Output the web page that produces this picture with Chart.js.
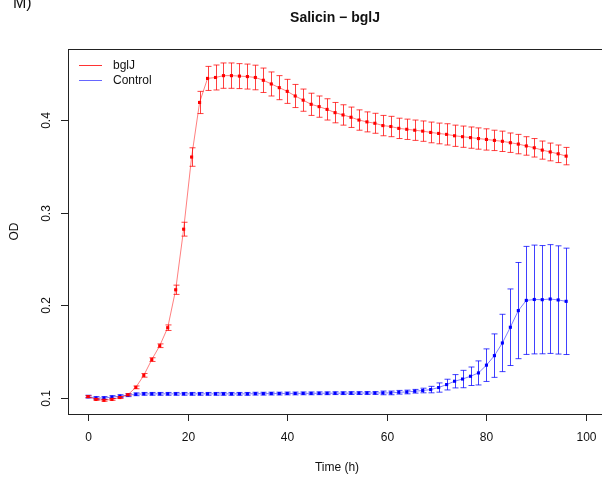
<!DOCTYPE html>
<html>
<head>
<meta charset="utf-8">
<title>Salicin - bglJ</title>
<script src="https://cdn.jsdelivr.net/npm/chart.js@4.4.0/dist/chart.umd.min.js"></script>
<style>
  html, body { margin: 0; padding: 0; background: #fff; }
  canvas { display: block; }
</style>
</head>
<body>
<canvas id="growth" width="602" height="482"></canvas>
<script>
// sampling times (h)
const timeHours = [
  0, 1.6, 3.2, 4.8, 6.4, 8, 9.6, 11.2, 12.8, 14.4,
  16, 17.6, 19.2, 20.8, 22.4, 24, 25.6, 27.2, 28.8, 30.4,
  32, 33.6, 35.2, 36.8, 38.4, 40, 41.6, 43.2, 44.8, 46.4,
  48, 49.6, 51.2, 52.8, 54.4, 56, 57.6, 59.2, 60.8, 62.4,
  64, 65.6, 67.2, 68.8, 70.4, 72, 73.6, 75.2, 76.8, 78.4,
  80, 81.6, 83.2, 84.8, 86.4, 88, 89.6, 91.2, 92.8, 94.4,
  96
];

// mean OD and spread, bglJ strain
const bgljOD = [
  0.101, 0.098, 0.097, 0.098, 0.100, 0.103, 0.111, 0.124, 0.141, 0.156,
  0.1755, 0.2165, 0.282, 0.360, 0.419, 0.445, 0.446, 0.448, 0.448, 0.4475,
  0.447, 0.446, 0.443, 0.439, 0.435, 0.431, 0.426, 0.4215, 0.417, 0.4145,
  0.4115, 0.408, 0.4055, 0.403, 0.400, 0.398, 0.3965, 0.394, 0.393, 0.391,
  0.390, 0.389, 0.388, 0.3866, 0.3855, 0.3845, 0.383, 0.382, 0.381, 0.380,
  0.379, 0.378, 0.377, 0.3755, 0.374, 0.372, 0.370, 0.3675, 0.3655, 0.3635,
  0.361
];
const bgljSD = [
  0.001, 0.001, 0.001, 0.001, 0.001, 0.001, 0.0015, 0.002, 0.002, 0.002,
  0.003, 0.005, 0.0075, 0.010, 0.012, 0.013, 0.0135, 0.0137, 0.0137, 0.0135,
  0.0135, 0.0133, 0.0132, 0.013, 0.013, 0.013, 0.0125, 0.012, 0.012, 0.0115,
  0.0115, 0.011, 0.011, 0.011, 0.011, 0.0108, 0.0108, 0.011, 0.011, 0.011,
  0.011, 0.011, 0.011, 0.0112, 0.0112, 0.0115, 0.0115, 0.0115, 0.0115, 0.0115,
  0.0115, 0.011, 0.011, 0.0105, 0.0105, 0.010, 0.010, 0.0098, 0.0096, 0.0095,
  0.0094
];

// mean OD and spread, control
const controlOD = [
  0.101, 0.0995, 0.0995, 0.1005, 0.1015, 0.1025, 0.1035, 0.104, 0.104, 0.104,
  0.104, 0.104, 0.104, 0.104, 0.104, 0.104, 0.104, 0.104, 0.104, 0.104,
  0.104, 0.1042, 0.1042, 0.1043, 0.1043, 0.1044, 0.1044, 0.1045, 0.1045, 0.1046,
  0.1046, 0.1047, 0.1047, 0.1048, 0.1048, 0.1049, 0.1049, 0.105, 0.105, 0.1057,
  0.106, 0.1068, 0.1076, 0.1086, 0.1108, 0.114, 0.1176, 0.120, 0.123, 0.1266,
  0.135, 0.1453, 0.159, 0.176, 0.194, 0.205, 0.206, 0.2058, 0.2065, 0.2055,
  0.204
];
const controlSD = [
  0.0015, 0.0015, 0.0015, 0.0015, 0.0015, 0.0015, 0.0015, 0.0015, 0.0015, 0.0015,
  0.0015, 0.0015, 0.0015, 0.0015, 0.0015, 0.0015, 0.0015, 0.0015, 0.0015, 0.0015,
  0.0015, 0.0015, 0.0015, 0.0015, 0.0015, 0.0015, 0.0015, 0.0015, 0.0015, 0.0015,
  0.0015, 0.0015, 0.0015, 0.0015, 0.0015, 0.0015, 0.0015, 0.002, 0.002, 0.002,
  0.002, 0.002, 0.0025, 0.0035, 0.005, 0.0058, 0.0072, 0.0094, 0.010, 0.013,
  0.0176, 0.0235, 0.031, 0.0414, 0.052, 0.0584, 0.0588, 0.0585, 0.0588, 0.0585,
  0.0575
];

const seriesNames = ['bglJ', 'Control'];
const xTicks = [0, 20, 40, 60, 80, 100];
const yTicks = [0.1, 0.2, 0.3, 0.4];
const xLimits = [-4.02, 103.0];
const yLimits = [0.0822, 0.4768];
const boxRight = 104;

const FONT = '"Liberation Sans", Arial, Helvetica, sans-serif';
const RED = 'rgba(255,0,0,0.5)';
const BLUE = 'rgba(0,0,255,0.5)';

const toPoints = (ys) => ys.map((y, i) => ({ x: timeHours[i], y }));

// vertical error bars with flat caps, drawn under each dataset's points
const errorBars = {
  id: 'errorBars',
  beforeDatasetDraw(chart, args) {
    const ds = chart.data.datasets[args.index];
    if (!ds.errors) return;
    const { ctx, scales: { x, y } } = chart;
    ctx.save();
    ctx.strokeStyle = ds.barColor;
    ctx.lineWidth = 1;
    ds.data.forEach((p, i) => {
      const px = Math.round(x.getPixelForValue(p.x)) + 0.5;
      const top = y.getPixelForValue(p.y + ds.errors[i]);
      const bot = y.getPixelForValue(p.y - ds.errors[i]);
      ctx.beginPath();
      ctx.moveTo(px, top);
      ctx.lineTo(px, bot);
      ctx.moveTo(px - 3, top);
      ctx.lineTo(px + 3, top);
      ctx.moveTo(px - 3, bot);
      ctx.lineTo(px + 3, bot);
      ctx.stroke();
    });
    ctx.restore();
  }
};

// base-graphics style frame: box, outside ticks, rotated y labels, titles, legend
const plotFrame = {
  id: 'plotFrame',
  afterDraw(chart) {
    const { ctx, chartArea: a, scales: { x, y } } = chart;
    const right = x.getPixelForValue(boxRight);
    ctx.save();
    ctx.strokeStyle = '#222';
    ctx.lineWidth = 1;
    ctx.strokeRect(a.left + 0.5, a.top + 0.5, right - a.left, a.bottom - a.top);

    ctx.fillStyle = '#111';
    ctx.font = '12px ' + FONT;
    ctx.textAlign = 'center';
    ctx.textBaseline = 'middle';

    xTicks.forEach(t => {
      const px = Math.round(x.getPixelForValue(t)) + 0.5;
      ctx.beginPath();
      ctx.moveTo(px, a.bottom);
      ctx.lineTo(px, a.bottom + 7);
      ctx.stroke();
      ctx.fillText(String(t), px, a.bottom + 24);
    });

    yTicks.forEach(t => {
      const py = Math.round(y.getPixelForValue(t)) + 0.5;
      ctx.beginPath();
      ctx.moveTo(a.left, py);
      ctx.lineTo(a.left - 7, py);
      ctx.stroke();
      ctx.save();
      ctx.translate(a.left - 21, py);
      ctx.rotate(-Math.PI / 2);
      ctx.fillText(t.toFixed(1), 0, 0);
      ctx.restore();
    });

    const midX = (a.left + right) / 2;
    ctx.fillText('Time (h)', midX, 468);
    ctx.save();
    ctx.translate(15, (a.top + a.bottom) / 2);
    ctx.rotate(-Math.PI / 2);
    ctx.fillText('OD', 0, 0);
    ctx.restore();

    ctx.font = 'bold 14px ' + FONT;
    ctx.fillText('Salicin \u2212 bglJ', midX - 2, 18);

    ctx.font = '16px ' + FONT;
    ctx.textAlign = 'left';
    ctx.textBaseline = 'alphabetic';
    ctx.fillText('M)', 13, 8);

    // legend, no frame
    ctx.font = '12px ' + FONT;
    ctx.textBaseline = 'middle';
    ['rgba(255,0,0,0.8)', 'rgba(0,0,255,0.6)'].forEach((c, i) => {
      const ly = 65.5 + i * 15;
      ctx.strokeStyle = c;
      ctx.beginPath();
      ctx.moveTo(79, ly);
      ctx.lineTo(102, ly);
      ctx.stroke();
      ctx.fillText(seriesNames[i], 113, ly);
    });
    ctx.restore();
  }
};

new Chart(document.getElementById('growth'), {
  type: 'line',
  data: {
    datasets: [
      {
        label: seriesNames[0],
        data: toPoints(bgljOD),
        errors: bgljSD,
        barColor: 'rgba(255,0,0,0.75)',
        borderColor: RED,
        borderWidth: 1,
        pointStyle: 'rect',
        pointRadius: 2.2,
        pointBorderWidth: 0,
        pointBackgroundColor: '#ff0000',
        tension: 0
      },
      {
        label: seriesNames[1],
        data: toPoints(controlOD),
        errors: controlSD,
        barColor: 'rgba(0,0,255,0.75)',
        borderColor: BLUE,
        borderWidth: 1,
        pointStyle: 'rect',
        pointRadius: 2.2,
        pointBorderWidth: 0,
        pointBackgroundColor: '#0000ff',
        tension: 0
      }
    ]
  },
  options: {
    responsive: false,
    animation: false,
    devicePixelRatio: 1,
    layout: { autoPadding: false, padding: { left: 68, right: 1, top: 49, bottom: 68 } },
    scales: {
      x: { type: 'linear', min: xLimits[0], max: xLimits[1], display: false },
      y: { type: 'linear', min: yLimits[0], max: yLimits[1], display: false }
    },
    plugins: {
      legend: { display: false },
      tooltip: { enabled: false }
    }
  },
  plugins: [errorBars, plotFrame]
});
</script>
</body>
</html>
